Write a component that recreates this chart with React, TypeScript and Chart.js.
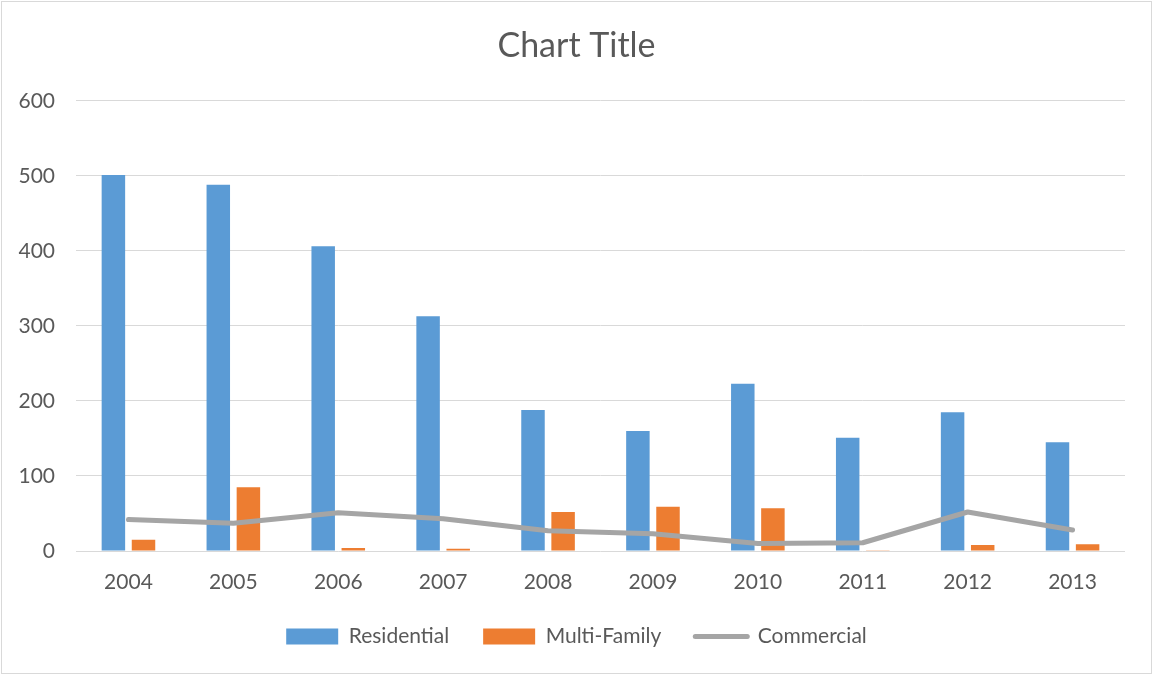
import React, { useEffect, useRef } from "react";
import { Chart, registerables } from "chart.js";

Chart.register(...registerables);

const years = ["2004", "2005", "2006", "2007", "2008", "2009", "2010", "2011", "2012", "2013"];
const residential = [501, 488, 406, 313, 188, 160, 223, 151, 185, 145];
const multiFamily = [15, 85, 4, 3, 52, 59, 57, 1, 8, 9];
const commercial = [42, 37, 51, 43, 27, 23, 10, 11, 52, 28];
const yMin = 0;
const yMax = 600;
const yStep = 100;

const BLUE = "#5b9bd5";
const ORANGE = "#ed7d31";
const GRAY = "#a5a5a5";
const TEXT = "#595959";
const GRID = "#d9d9d9";
const FONT = "Lato, 'Open Sans', sans-serif";

const frame = {
  id: "frame",
  beforeDraw(chart: any) {
    const { ctx, width, height } = chart;
    ctx.save();
    ctx.fillStyle = "#ffffff";
    ctx.fillRect(0, 0, width, height);
    ctx.strokeStyle = GRID;
    ctx.lineWidth = 1;
    ctx.strokeRect(1.5, 1.5, width - 3, height - 3);
    ctx.restore();
  },
};

export default function App() {
  const ref = useRef<HTMLCanvasElement | null>(null);

  useEffect(() => {
    if (!ref.current) return;
    const chart = new Chart(ref.current, {
      type: "bar",
      data: {
        labels: years,
        datasets: [
          {
            type: "bar",
            label: "Residential",
            data: residential,
            backgroundColor: BLUE,
            categoryPercentage: 0.574,
            barPercentage: 0.78,
            order: 1,
          },
          {
            type: "bar",
            label: "Multi-Family",
            data: multiFamily,
            backgroundColor: ORANGE,
            categoryPercentage: 0.574,
            barPercentage: 0.78,
            order: 1,
          },
          {
            type: "line",
            label: "Commercial",
            data: commercial,
            borderColor: GRAY,
            backgroundColor: GRAY,
            borderWidth: 5,
            pointRadius: 0,
            pointHoverRadius: 0,
            tension: 0,
            borderCapStyle: "round",
            borderJoinStyle: "round",
            fill: false,
            order: 0,
          } as any,
        ],
      },
      options: {
        responsive: false,
        animation: false,
        layout: { padding: { top: 0, left: 0, right: 0, bottom: 18 } },
        scales: {
          x: {
            offset: true,
            grid: { display: false, drawTicks: false },
            border: { display: false },
            ticks: { color: TEXT, font: { family: FONT, size: 21 }, padding: 19, maxRotation: 0 },
            afterFit(scale: any) {
              scale.height = 41;
            },
          },
          y: {
            min: yMin,
            max: yMax,
            ticks: { stepSize: yStep, color: TEXT, font: { family: FONT, size: 21 }, padding: 21 },
            grid: { color: GRID, lineWidth: 1, drawTicks: false },
            border: { display: false },
            afterFit(scale: any) {
              scale.width = 76;
            },
          },
          yRight: {
            position: "right",
            min: yMin,
            max: yMax,
            grid: { display: false, drawTicks: false },
            border: { display: false },
            ticks: { display: false },
            afterFit(scale: any) {
              scale.width = 28;
            },
          },
        },
        plugins: {
          title: {
            display: true,
            text: "Chart Title",
            color: TEXT,
            font: { family: FONT, size: 34, weight: "normal" },
            padding: { top: 26, bottom: 34 },
          },
          legend: {
            position: "bottom",
            labels: {
              color: TEXT,
              font: { family: FONT, size: 21 },
              usePointStyle: true,
              pointStyleWidth: 52,
              boxHeight: 16,
              padding: 34,
              sort: (a: any, b: any) => a.datasetIndex - b.datasetIndex,
              generateLabels: (c: any) => {
                const items = (Chart.defaults.plugins.legend.labels as any).generateLabels(c);
                return items.map((it: any) => {
                  if (it.datasetIndex === 2) {
                    return { ...it, pointStyle: "line", strokeStyle: GRAY, lineWidth: 5, lineCap: "round" };
                  }
                  return { ...it, pointStyle: "rect", lineWidth: 0 };
                });
              },
            },
          },
          tooltip: { enabled: false },
        },
      },
      plugins: [frame],
    });
    return () => chart.destroy();
  }, []);

  return (
    <div style={{ position: "absolute", left: 0, top: 0, width: 1153, height: 675 }}>
      <canvas ref={ref} width={1153} height={675} style={{ display: "block" }} />
    </div>
  );
}
